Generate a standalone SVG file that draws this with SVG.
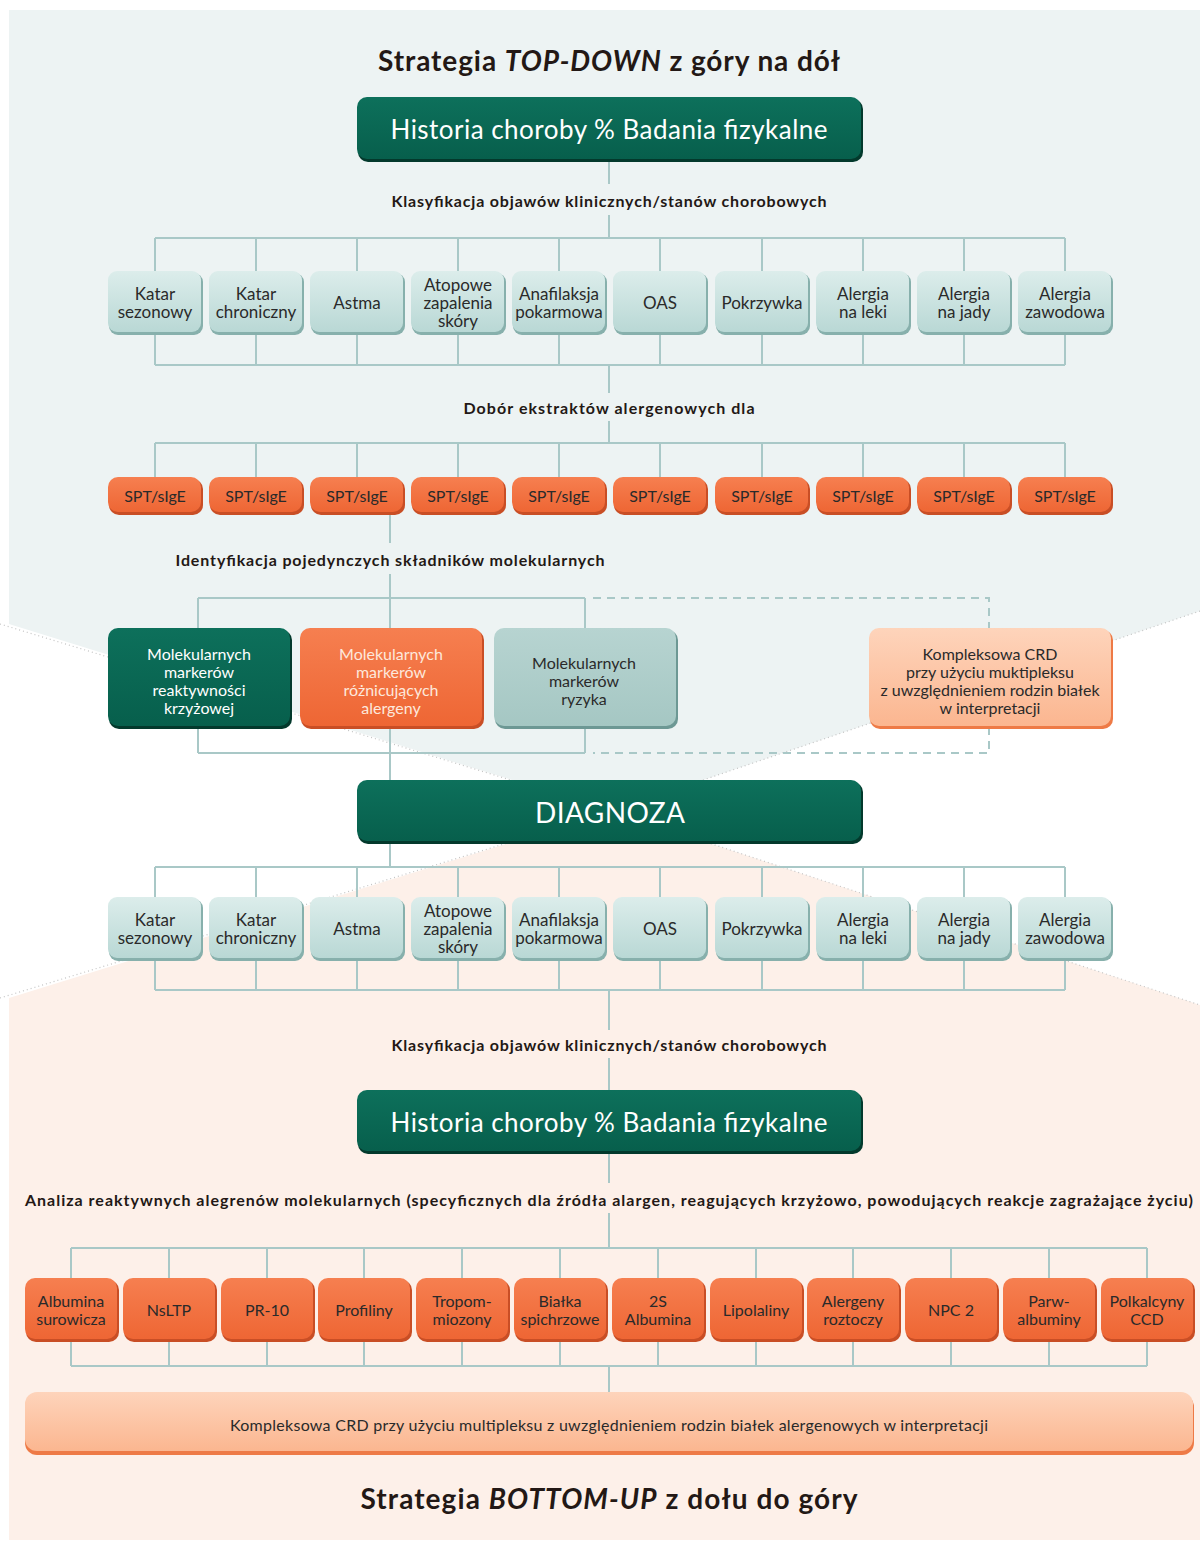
<svg xmlns="http://www.w3.org/2000/svg" width="1200" height="1546" viewBox="0 0 1200 1546">
<defs>
<linearGradient id="gTeal" x1="0" y1="0" x2="0" y2="1"><stop offset="0" stop-color="#dcedeb"/><stop offset="1" stop-color="#b9d8d5"/></linearGradient>
<linearGradient id="gOrange" x1="0" y1="0" x2="0" y2="1"><stop offset="0" stop-color="#f67f50"/><stop offset="1" stop-color="#ee6634"/></linearGradient>
<linearGradient id="gGreen" x1="0" y1="0" x2="0" y2="1"><stop offset="0" stop-color="#0d705b"/><stop offset="1" stop-color="#075f4c"/></linearGradient>
<linearGradient id="gRisk" x1="0" y1="0" x2="0" y2="1"><stop offset="0" stop-color="#b7d4d1"/><stop offset="1" stop-color="#a5c7c3"/></linearGradient>
<linearGradient id="gPeach" x1="0" y1="0" x2="0" y2="1"><stop offset="0" stop-color="#fed4bb"/><stop offset="1" stop-color="#fbb690"/></linearGradient>
<style>
.conn{stroke:#a9c8c7;stroke-width:2;fill:none}
.dash{stroke-dasharray:8 6}
.edge{stroke:#c4c4c4;stroke-width:1.2;fill:none;stroke-dasharray:1 3}
.lbl{font-family:Lato,"Liberation Sans",sans-serif;font-weight:700;font-size:16px;fill:#231815;text-anchor:middle;dominant-baseline:central}
.ttl{font-family:Lato,"Liberation Sans",sans-serif;font-weight:700;font-size:28px;fill:#231815;text-anchor:middle;dominant-baseline:central}
.bt{font-family:Lato,"Liberation Sans",sans-serif;font-size:16px;fill:#2a2a2a;text-anchor:middle;dominant-baseline:central}
#row1 .bt,#row2 .bt{font-size:17px}
.wt{font-family:Lato,"Liberation Sans",sans-serif;fill:#ffffff;text-anchor:middle;dominant-baseline:central}
.teal{fill:url(#gTeal)}
.tealS{fill:#87b0ac}
.org{fill:url(#gOrange)}
.orgS{fill:#c94e25}
.grn{fill:url(#gGreen)}
.grnS{fill:#03392c}
.risk{fill:url(#gRisk)}
.riskS{fill:#6d9894}
.pch{fill:url(#gPeach)}
.pchS{fill:#ee7a46}
</style>
</defs>

<g id="background">
<rect x="0" y="0" width="1200" height="1546" fill="#ffffff"/>
<polygon points="9,10 1200,10 1200,611 612,811 9,624" fill="#edf3f3"/>
<polygon points="612,811 1200,1005 1200,1540 9,1540 9,998" fill="#fdf0e9"/>
<polyline class="edge" points="0,624 612,811 1200,611"/>
<polyline class="edge" points="0,998 612,811 1200,1005"/>
</g>

<g id="connectors">
<path class="conn" d="M609 160V184M609 215V238M155 238H1065"/>
<path class="conn" d="M155 238V271M256 238V271M357 238V271M458 238V271M559 238V271M660 238V271M762 238V271M863 238V271M964 238V271M1065 238V271"/>
<path class="conn" d="M155 333V365M256 333V365M357 333V365M458 333V365M559 333V365M660 333V365M762 333V365M863 333V365M964 333V365M1065 333V365M155 365H1065M609 365V393M609 421V443M155 443H1065"/>
<path class="conn" d="M155 443V477M256 443V477M357 443V477M458 443V477M559 443V477M660 443V477M762 443V477M863 443V477M964 443V477M1065 443V477"/>
<path class="conn" d="M390 513V543M390 574V780M198 598H585M198 598V628M585 598V628M198 727V753M585 727V753M198 753H585"/>
<path class="conn dash" d="M593 598H989V628M989 727V753H593"/>
<path class="conn" d="M390 842V867M155 867H1065M155 867V897M256 867V897M357 867V897M458 867V897M559 867V897M660 867V897M762 867V897M863 867V897M964 867V897M1065 867V897"/>
<path class="conn" d="M155 958V990M256 958V990M357 958V990M458 958V990M559 958V990M660 958V990M762 958V990M863 958V990M964 958V990M1065 958V990M155 990H1065M609 990V1030M609 1058V1090"/>
<path class="conn" d="M609 1152V1183M609 1213V1248M71 1248H1147M71 1248V1278M169 1248V1278M267 1248V1278M364 1248V1278M462 1248V1278M560 1248V1278M658 1248V1278M756 1248V1278M853 1248V1278M951 1248V1278M1049 1248V1278M1147 1248V1278"/>
<path class="conn" d="M71 1340V1366M169 1340V1366M267 1340V1366M364 1340V1366M462 1340V1366M560 1340V1366M658 1340V1366M756 1340V1366M853 1340V1366M951 1340V1366M1049 1340V1366M1147 1340V1366M71 1366H1147M609 1366V1392"/>
</g>

<g id="title-top"><text class="ttl" x="609" y="60" textLength="462" lengthAdjust="spacing">Strategia <tspan font-style="italic">TOP-DOWN</tspan> z góry na dół</text></g>

<g id="historia-top">
<rect class="grnS" x="358" y="99" width="505" height="63" rx="10"/>
<rect class="grn" x="357" y="97" width="504" height="62" rx="10"/>
<text class="wt" x="609" y="129" font-size="26" textLength="437" lengthAdjust="spacing">Historia choroby % Badania fizykalne</text>
</g>

<g id="label-klasyfikacja-top"><text class="lbl" x="609" y="200" textLength="435" lengthAdjust="spacing">Klasyfikacja objawów klinicznych/stanów chorobowych</text></g>

<g id="row1">
<g id="r1-1"><rect class="tealS" x="109" y="273" width="94" height="62" rx="9"/><rect class="teal" x="108" y="271" width="93" height="61" rx="9"/><text class="bt" x="155" y="293">Katar</text><text class="bt" x="155" y="311">sezonowy</text></g>
<g id="r1-2"><rect class="tealS" x="210" y="273" width="94" height="62" rx="9"/><rect class="teal" x="209" y="271" width="93" height="61" rx="9"/><text class="bt" x="256" y="293">Katar</text><text class="bt" x="256" y="311">chroniczny</text></g>
<g id="r1-3"><rect class="tealS" x="311" y="273" width="94" height="62" rx="9"/><rect class="teal" x="310" y="271" width="93" height="61" rx="9"/><text class="bt" x="357" y="302">Astma</text></g>
<g id="r1-4"><rect class="tealS" x="412" y="273" width="94" height="62" rx="9"/><rect class="teal" x="411" y="271" width="93" height="61" rx="9"/><text class="bt" x="458" y="284">Atopowe</text><text class="bt" x="458" y="302">zapalenia</text><text class="bt" x="458" y="320">skóry</text></g>
<g id="r1-5"><rect class="tealS" x="513" y="273" width="94" height="62" rx="9"/><rect class="teal" x="512" y="271" width="93" height="61" rx="9"/><text class="bt" x="559" y="293">Anafilaksja</text><text class="bt" x="559" y="311">pokarmowa</text></g>
<g id="r1-6"><rect class="tealS" x="614" y="273" width="94" height="62" rx="9"/><rect class="teal" x="613" y="271" width="93" height="61" rx="9"/><text class="bt" x="660" y="302">OAS</text></g>
<g id="r1-7"><rect class="tealS" x="716" y="273" width="94" height="62" rx="9"/><rect class="teal" x="715" y="271" width="93" height="61" rx="9"/><text class="bt" x="762" y="302">Pokrzywka</text></g>
<g id="r1-8"><rect class="tealS" x="817" y="273" width="94" height="62" rx="9"/><rect class="teal" x="816" y="271" width="93" height="61" rx="9"/><text class="bt" x="863" y="293">Alergia</text><text class="bt" x="863" y="311">na leki</text></g>
<g id="r1-9"><rect class="tealS" x="918" y="273" width="94" height="62" rx="9"/><rect class="teal" x="917" y="271" width="93" height="61" rx="9"/><text class="bt" x="964" y="293">Alergia</text><text class="bt" x="964" y="311">na jady</text></g>
<g id="r1-10"><rect class="tealS" x="1019" y="273" width="94" height="62" rx="9"/><rect class="teal" x="1018" y="271" width="93" height="61" rx="9"/><text class="bt" x="1065" y="293">Alergia</text><text class="bt" x="1065" y="311">zawodowa</text></g>
</g>

<g id="label-dobor"><text class="lbl" x="609" y="407" textLength="291" lengthAdjust="spacing">Dobór ekstraktów alergenowych dla</text></g>

<g id="spt-row">
<g id="spt-1"><rect class="orgS" x="109" y="479" width="94" height="36" rx="10"/><rect class="org" x="108" y="477" width="93" height="35" rx="10"/><text class="bt" x="155" y="495">SPT/sIgE</text></g>
<g id="spt-2"><rect class="orgS" x="210" y="479" width="94" height="36" rx="10"/><rect class="org" x="209" y="477" width="93" height="35" rx="10"/><text class="bt" x="256" y="495">SPT/sIgE</text></g>
<g id="spt-3"><rect class="orgS" x="311" y="479" width="94" height="36" rx="10"/><rect class="org" x="310" y="477" width="93" height="35" rx="10"/><text class="bt" x="357" y="495">SPT/sIgE</text></g>
<g id="spt-4"><rect class="orgS" x="412" y="479" width="94" height="36" rx="10"/><rect class="org" x="411" y="477" width="93" height="35" rx="10"/><text class="bt" x="458" y="495">SPT/sIgE</text></g>
<g id="spt-5"><rect class="orgS" x="513" y="479" width="94" height="36" rx="10"/><rect class="org" x="512" y="477" width="93" height="35" rx="10"/><text class="bt" x="559" y="495">SPT/sIgE</text></g>
<g id="spt-6"><rect class="orgS" x="614" y="479" width="94" height="36" rx="10"/><rect class="org" x="613" y="477" width="93" height="35" rx="10"/><text class="bt" x="660" y="495">SPT/sIgE</text></g>
<g id="spt-7"><rect class="orgS" x="716" y="479" width="94" height="36" rx="10"/><rect class="org" x="715" y="477" width="93" height="35" rx="10"/><text class="bt" x="762" y="495">SPT/sIgE</text></g>
<g id="spt-8"><rect class="orgS" x="817" y="479" width="94" height="36" rx="10"/><rect class="org" x="816" y="477" width="93" height="35" rx="10"/><text class="bt" x="863" y="495">SPT/sIgE</text></g>
<g id="spt-9"><rect class="orgS" x="918" y="479" width="94" height="36" rx="10"/><rect class="org" x="917" y="477" width="93" height="35" rx="10"/><text class="bt" x="964" y="495">SPT/sIgE</text></g>
<g id="spt-10"><rect class="orgS" x="1019" y="479" width="94" height="36" rx="10"/><rect class="org" x="1018" y="477" width="93" height="35" rx="10"/><text class="bt" x="1065" y="495">SPT/sIgE</text></g>
</g>

<g id="label-identyfikacja"><text class="lbl" x="390" y="559" textLength="429" lengthAdjust="spacing">Identyfikacja pojedynczych składników molekularnych</text></g>

<g id="mol-cross"><rect class="grnS" x="109" y="630" width="183" height="99" rx="10"/><rect class="grn" x="108" y="628" width="182" height="98" rx="10"/>
<text class="wt" x="199" y="653" font-size="16">Molekularnych</text><text class="wt" x="199" y="671" font-size="16">markerów</text><text class="wt" x="199" y="689" font-size="16">reaktywności</text><text class="wt" x="199" y="707" font-size="16">krzyżowej</text></g>
<g id="mol-diff"><rect class="orgS" x="301" y="630" width="183" height="99" rx="10"/><rect class="org" x="300" y="628" width="182" height="98" rx="10"/>
<text class="wt" x="391" y="653" font-size="16" style="fill:#fde8dc">Molekularnych</text><text class="wt" x="391" y="671" font-size="16" style="fill:#fde8dc">markerów</text><text class="wt" x="391" y="689" font-size="16" style="fill:#fde8dc">różnicujących</text><text class="wt" x="391" y="707" font-size="16" style="fill:#fde8dc">alergeny</text></g>
<g id="mol-risk"><rect class="riskS" x="495" y="630" width="183" height="99" rx="10"/><rect class="risk" x="494" y="628" width="182" height="98" rx="10"/>
<text class="bt" x="584" y="662">Molekularnych</text><text class="bt" x="584" y="680">markerów</text><text class="bt" x="584" y="698">ryzyka</text></g>
<g id="crd-top"><rect class="pchS" x="870" y="630" width="243" height="99" rx="10"/><rect class="pch" x="869" y="628" width="242" height="98" rx="10"/>
<text class="bt" x="990" y="653">Kompleksowa CRD</text><text class="bt" x="990" y="671">przy użyciu muktipleksu</text><text class="bt" x="990" y="689">z uwzględnieniem rodzin białek</text><text class="bt" x="990" y="707">w interpretacji</text></g>

<g id="diagnoza"><rect class="grnS" x="358" y="782" width="505" height="62" rx="10"/><rect class="grn" x="357" y="780" width="504" height="61" rx="10"/>
<text class="wt" x="610" y="812" font-size="28" textLength="150" lengthAdjust="spacing">DIAGNOZA</text></g>

<g id="row2">
<g id="r2-1"><rect class="tealS" x="109" y="899" width="94" height="62" rx="9"/><rect class="teal" x="108" y="897" width="93" height="61" rx="9"/><text class="bt" x="155" y="919">Katar</text><text class="bt" x="155" y="937">sezonowy</text></g>
<g id="r2-2"><rect class="tealS" x="210" y="899" width="94" height="62" rx="9"/><rect class="teal" x="209" y="897" width="93" height="61" rx="9"/><text class="bt" x="256" y="919">Katar</text><text class="bt" x="256" y="937">chroniczny</text></g>
<g id="r2-3"><rect class="tealS" x="311" y="899" width="94" height="62" rx="9"/><rect class="teal" x="310" y="897" width="93" height="61" rx="9"/><text class="bt" x="357" y="928">Astma</text></g>
<g id="r2-4"><rect class="tealS" x="412" y="899" width="94" height="62" rx="9"/><rect class="teal" x="411" y="897" width="93" height="61" rx="9"/><text class="bt" x="458" y="910">Atopowe</text><text class="bt" x="458" y="928">zapalenia</text><text class="bt" x="458" y="946">skóry</text></g>
<g id="r2-5"><rect class="tealS" x="513" y="899" width="94" height="62" rx="9"/><rect class="teal" x="512" y="897" width="93" height="61" rx="9"/><text class="bt" x="559" y="919">Anafilaksja</text><text class="bt" x="559" y="937">pokarmowa</text></g>
<g id="r2-6"><rect class="tealS" x="614" y="899" width="94" height="62" rx="9"/><rect class="teal" x="613" y="897" width="93" height="61" rx="9"/><text class="bt" x="660" y="928">OAS</text></g>
<g id="r2-7"><rect class="tealS" x="716" y="899" width="94" height="62" rx="9"/><rect class="teal" x="715" y="897" width="93" height="61" rx="9"/><text class="bt" x="762" y="928">Pokrzywka</text></g>
<g id="r2-8"><rect class="tealS" x="817" y="899" width="94" height="62" rx="9"/><rect class="teal" x="816" y="897" width="93" height="61" rx="9"/><text class="bt" x="863" y="919">Alergia</text><text class="bt" x="863" y="937">na leki</text></g>
<g id="r2-9"><rect class="tealS" x="918" y="899" width="94" height="62" rx="9"/><rect class="teal" x="917" y="897" width="93" height="61" rx="9"/><text class="bt" x="964" y="919">Alergia</text><text class="bt" x="964" y="937">na jady</text></g>
<g id="r2-10"><rect class="tealS" x="1019" y="899" width="94" height="62" rx="9"/><rect class="teal" x="1018" y="897" width="93" height="61" rx="9"/><text class="bt" x="1065" y="919">Alergia</text><text class="bt" x="1065" y="937">zawodowa</text></g>
</g>

<g id="label-klasyfikacja-bottom"><text class="lbl" x="609" y="1044" textLength="435" lengthAdjust="spacing">Klasyfikacja objawów klinicznych/stanów chorobowych</text></g>

<g id="historia-bottom"><rect class="grnS" x="358" y="1092" width="505" height="62" rx="10"/><rect class="grn" x="357" y="1090" width="504" height="61" rx="10"/>
<text class="wt" x="609" y="1122" font-size="26" textLength="437" lengthAdjust="spacing">Historia choroby % Badania fizykalne</text></g>

<g id="label-analiza"><text class="lbl" x="609" y="1199" textLength="1168" lengthAdjust="spacing">Analiza reaktywnych alegrenów molekularnych (specyficznych dla źródła alargen, reagujących krzyżowo, powodujących reakcje zagrażające życiu)</text></g>

<g id="row3">
<g id="r3-1"><rect class="orgS" x="26" y="1280" width="93" height="62" rx="10"/><rect class="org" x="25" y="1278" width="92" height="61" rx="10"/><text class="bt" x="71" y="1300">Albumina</text><text class="bt" x="71" y="1318">surowicza</text></g>
<g id="r3-2"><rect class="orgS" x="124" y="1280" width="93" height="62" rx="10"/><rect class="org" x="123" y="1278" width="92" height="61" rx="10"/><text class="bt" x="169" y="1309">NsLTP</text></g>
<g id="r3-3"><rect class="orgS" x="222" y="1280" width="93" height="62" rx="10"/><rect class="org" x="221" y="1278" width="92" height="61" rx="10"/><text class="bt" x="267" y="1309">PR-10</text></g>
<g id="r3-4"><rect class="orgS" x="319" y="1280" width="93" height="62" rx="10"/><rect class="org" x="318" y="1278" width="92" height="61" rx="10"/><text class="bt" x="364" y="1309">Profiliny</text></g>
<g id="r3-5"><rect class="orgS" x="417" y="1280" width="93" height="62" rx="10"/><rect class="org" x="416" y="1278" width="92" height="61" rx="10"/><text class="bt" x="462" y="1300">Tropom-</text><text class="bt" x="462" y="1318">miozony</text></g>
<g id="r3-6"><rect class="orgS" x="515" y="1280" width="93" height="62" rx="10"/><rect class="org" x="514" y="1278" width="92" height="61" rx="10"/><text class="bt" x="560" y="1300">Białka</text><text class="bt" x="560" y="1318">spichrzowe</text></g>
<g id="r3-7"><rect class="orgS" x="613" y="1280" width="93" height="62" rx="10"/><rect class="org" x="612" y="1278" width="92" height="61" rx="10"/><text class="bt" x="658" y="1300">2S</text><text class="bt" x="658" y="1318">Albumina</text></g>
<g id="r3-8"><rect class="orgS" x="711" y="1280" width="93" height="62" rx="10"/><rect class="org" x="710" y="1278" width="92" height="61" rx="10"/><text class="bt" x="756" y="1309">Lipolaliny</text></g>
<g id="r3-9"><rect class="orgS" x="808" y="1280" width="93" height="62" rx="10"/><rect class="org" x="807" y="1278" width="92" height="61" rx="10"/><text class="bt" x="853" y="1300">Alergeny</text><text class="bt" x="853" y="1318">roztoczy</text></g>
<g id="r3-10"><rect class="orgS" x="906" y="1280" width="93" height="62" rx="10"/><rect class="org" x="905" y="1278" width="92" height="61" rx="10"/><text class="bt" x="951" y="1309">NPC 2</text></g>
<g id="r3-11"><rect class="orgS" x="1004" y="1280" width="93" height="62" rx="10"/><rect class="org" x="1003" y="1278" width="92" height="61" rx="10"/><text class="bt" x="1049" y="1300">Parw-</text><text class="bt" x="1049" y="1318">albuminy</text></g>
<g id="r3-12"><rect class="orgS" x="1102" y="1280" width="93" height="62" rx="10"/><rect class="org" x="1101" y="1278" width="92" height="61" rx="10"/><text class="bt" x="1147" y="1300">Polkalcyny</text><text class="bt" x="1147" y="1318">CCD</text></g>
</g>

<g id="crd-bottom"><rect class="pchS" x="25" y="1395" width="1169" height="60" rx="12"/><rect class="pch" x="25" y="1392" width="1168" height="59" rx="12"/>
<text class="bt" x="609" y="1424" font-size="15.5" textLength="758" lengthAdjust="spacing">Kompleksowa CRD przy użyciu multipleksu z uwzględnieniem rodzin białek alergenowych w interpretacji</text></g>

<g id="title-bottom"><text class="ttl" x="609" y="1498" textLength="497" lengthAdjust="spacing">Strategia <tspan font-style="italic">BOTTOM-UP</tspan> z dołu do góry</text></g>
</svg>
